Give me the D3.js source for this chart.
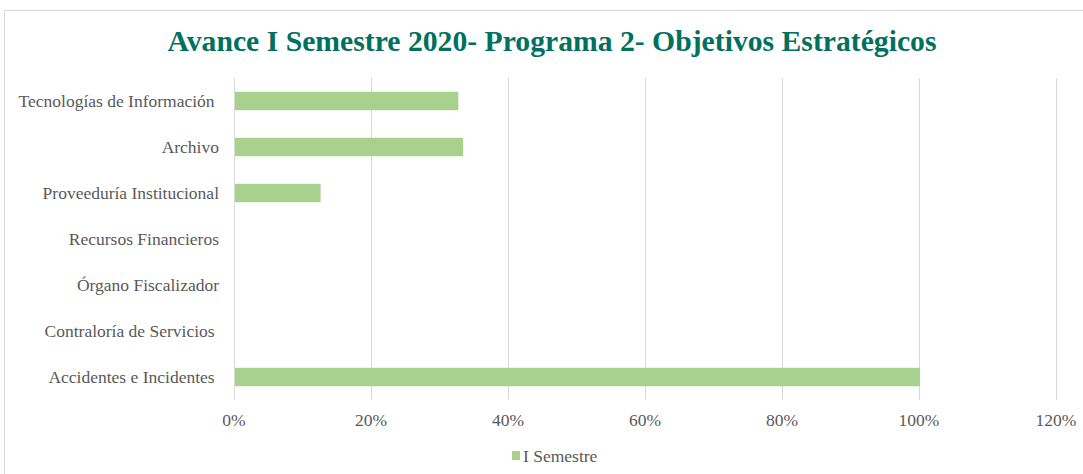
<!DOCTYPE html>
<html>
<head>
<meta charset="utf-8">
<script src="https://cdn.jsdelivr.net/npm/d3@7"></script>
<style>
  body { margin: 0; background: #fff; }
  svg { display: block; }
  text { font-family: "Liberation Serif", "Times New Roman", serif; }
</style>
</head>
<body>
<script>
// Chart data
const categories = [
  'Tecnologías de Información ',
  'Archivo',
  'Proveeduría Institucional',
  'Recursos Financieros',
  'Órgano Fiscalizador',
  'Contraloría de Servicios ',
  'Accidentes e Incidentes '
];
const semestre1 = [0.326, 0.333, 0.125, 0, 0, 0, 1.0];
const xTicks = [0, 0.2, 0.4, 0.6, 0.8, 1.0, 1.2];
const seriesName = 'I Semestre';

const W = 1083, H = 474;
const margin = { top: 78, left: 234, right: 27, bottom: 74 };

const svg = d3.select('body').append('svg')
  .attr('width', W)
  .attr('height', H);

// outer chart border (right and bottom edges fall outside the view)
svg.append('rect')
  .attr('x', 4.5).attr('y', 10.5)
  .attr('width', W).attr('height', H)
  .attr('fill', '#fff')
  .attr('stroke', '#d9d9d9');

svg.append('text')
  .attr('x', 552).attr('y', 51)
  .attr('text-anchor', 'middle')
  .attr('font-size', 30)
  .attr('font-weight', 'bold')
  .attr('fill', '#00705f')
  .attr('textLength', 769)
  .attr('lengthAdjust', 'spacingAndGlyphs')
  .text('Avance I Semestre 2020- Programa 2- Objetivos Estratégicos');

const x = d3.scaleLinear()
  .domain([0, 1.2])
  .range([margin.left, W - margin.right]);

const y = d3.scaleBand()
  .domain(categories)
  .range([margin.top, H - margin.bottom])
  .paddingInner(0.6)
  .paddingOuter(0.3);

// gridlines
svg.append('g')
  .selectAll('line')
  .data(xTicks)
  .join('line')
  .attr('x1', d => Math.round(x(d)) + 0.5)
  .attr('x2', d => Math.round(x(d)) + 0.5)
  .attr('y1', margin.top)
  .attr('y2', H - margin.bottom)
  .attr('stroke', '#d9d9d9')
  .attr('stroke-width', 1);

// bars
svg.append('g')
  .selectAll('rect')
  .data(categories.map((c, i) => ({ c, v: semestre1[i] })))
  .join('rect')
  .attr('x', x(0) + 1)
  .attr('y', d => y(d.c))
  .attr('width', d => Math.max(0, x(d.v) - x(0)))
  .attr('height', y.bandwidth())
  .attr('fill', '#a9d18e');

// category labels
svg.append('g')
  .selectAll('text')
  .data(categories)
  .join('text')
  .attr('x', margin.left - 15)
  .attr('y', d => y(d) + y.bandwidth() / 2)
  .attr('dy', '0.35em')
  .attr('text-anchor', 'end')
  .attr('font-size', 17.5)
  .attr('fill', '#595959')
  .style('white-space', 'pre')
  .text(d => d);

// x tick labels
const fmt = d3.format('.0%');
svg.append('g')
  .selectAll('text')
  .data(xTicks)
  .join('text')
  .attr('x', d => x(d))
  .attr('y', 426)
  .attr('text-anchor', 'middle')
  .attr('font-size', 17.5)
  .attr('fill', '#595959')
  .text(d => fmt(d));

// legend
const lg = svg.append('g').attr('transform', 'translate(512,451)');
lg.append('rect')
  .attr('width', 8).attr('height', 9)
  .attr('fill', '#a9d18e');
lg.append('text')
  .attr('x', 11).attr('y', 4.5)
  .attr('dy', '0.35em')
  .attr('font-size', 17.5)
  .attr('fill', '#595959')
  .text(seriesName);
</script>
</body>
</html>
